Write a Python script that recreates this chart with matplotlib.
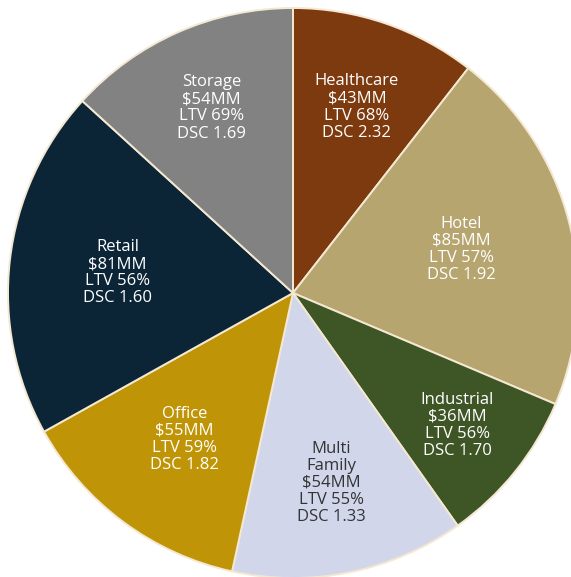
import numpy as np
import matplotlib
matplotlib.use("Agg")
import matplotlib.pyplot as plt

categories = ["Healthcare", "Hotel", "Industrial", "Multi\nFamily", "Office", "Retail", "Storage"]
amounts = [43, 85, 36, 54, 55, 81, 54]
ltv = [68, 57, 56, 55, 59, 56, 69]
dsc = ["2.32", "1.92", "1.70", "1.33", "1.82", "1.60", "1.69"]

colors = ["#7D3A0E", "#B6A56F", "#3E5526", "#D1D6EA", "#BF9406", "#0B2536", "#828282"]
text_colors = ["white", "white", "white", "#333333", "white", "white", "white"]
label_r = [0.69, 0.61, 0.74, 0.68, 0.64, 0.62, 0.71]

W, H = 571, 577
fig = plt.figure(figsize=(W / 100, H / 100), dpi=100)
cx, cy, R = 293, 293, 285
ax = fig.add_axes([(cx - R) / W, (H - cy - R) / H, 2 * R / W, 2 * R / H])
ax.axis("off")

wedges, _ = ax.pie(amounts, colors=colors, startangle=90, counterclock=False,
                   radius=1.0,
                   wedgeprops=dict(edgecolor="#F4E8D2", linewidth=1.4))
ax.set_xlim(-1, 1)
ax.set_ylim(-1, 1)

for w, cat, a, l, d, tc, r in zip(wedges, categories, amounts, ltv, dsc, text_colors, label_r):
    ang = np.deg2rad((w.theta1 + w.theta2) / 2)
    x, y = r * np.cos(ang), r * np.sin(ang)
    txt = f"{cat}\n${a}MM\nLTV {l}%\nDSC {d}"
    ax.text(x, y, txt, ha="center", va="center", color=tc, fontsize=12,
            family=["Open Sans", "DejaVu Sans"], linespacing=1.09)

fig.savefig("out.png", dpi=100)
